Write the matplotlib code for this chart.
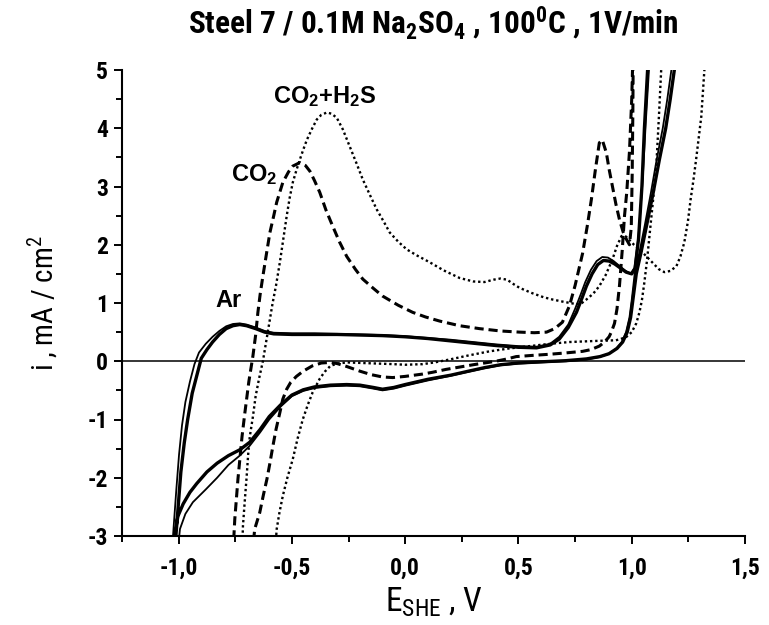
import numpy as np
import matplotlib
matplotlib.use("Agg")
import matplotlib.pyplot as plt
from matplotlib import font_manager
from matplotlib.ticker import MultipleLocator, FuncFormatter

# === fonts: a narrow sans if there is one ===
names = {f.name for f in font_manager.fontManager.ttflist}
FONT = "Liberation Sans"
for cand in ["Liberation Sans Narrow", "Arial Narrow", "Roboto Condensed",
             "Noto Sans Condensed", "Open Sans Condensed"]:
    if cand in names:
        FONT = cand
        break
plt.rcParams["font.family"] = [FONT, "DejaVu Sans"]
plt.rcParams["mathtext.fontset"] = "custom"
plt.rcParams["mathtext.rm"] = FONT
plt.rcParams["mathtext.bf"] = FONT + ":bold"
plt.rcParams["mathtext.default"] = "regular"

# === data (E vs SHE in V, i in mA/cm2) ===
# Ar, first cycle (thick)
ar1_fwd_e = [-1.02, -1.012, -1.0, -0.99, -0.975, -0.96, -0.94, -0.92, -0.9, -0.875, -0.85, -0.82,
             -0.79, -0.76, -0.73, -0.7, -0.66, -0.62, -0.58, -0.5, -0.4, -0.3, -0.2, -0.1, 0.0,
             0.1, 0.2, 0.3, 0.4, 0.5, 0.58, 0.64, 0.68, 0.72, 0.756, 0.78, 0.80, 0.825, 0.85,
             0.875, 0.9, 0.925, 0.95, 0.975, 1.0, 1.015, 1.03, 1.045, 1.056, 1.07, 1.075]
ar1_fwd_i = [-3.3, -3.0, -2.4, -1.9, -1.4, -1.0, -0.55, -0.25, 0.05, 0.2, 0.33, 0.46,
             0.56, 0.61, 0.63, 0.61, 0.56, 0.5, 0.47, 0.46, 0.46, 0.46, 0.45, 0.44, 0.42,
             0.39, 0.35, 0.31, 0.27, 0.24, 0.23, 0.28, 0.38, 0.58, 0.84, 1.08, 1.29, 1.5, 1.66,
             1.73, 1.72, 1.67, 1.6, 1.53, 1.5, 1.6, 2.1, 3.0, 4.0, 5.0, 5.5]
ar1_rev_e = [1.195, 1.188, 1.17, 1.15, 1.122, 1.095, 1.065, 1.04, 1.02, 1.005, 0.995, 0.98,
             0.96, 0.935, 0.9, 0.86, 0.8, 0.71, 0.6, 0.5, 0.42, 0.35, 0.28, 0.2, 0.1, 0.0,
             -0.05, -0.1, -0.14, -0.2, -0.258, -0.33, -0.4, -0.45, -0.5, -0.55, -0.6, -0.64,
             -0.686, -0.73, -0.78, -0.83, -0.875, -0.92, -0.95, -0.98, -1.003, -1.016, -1.02]
ar1_rev_i = [5.5, 5.0, 4.5, 4.0, 3.46, 2.9, 2.32, 1.85, 1.5, 1.05, 0.75, 0.5,
             0.33, 0.22, 0.13, 0.08, 0.04, 0.01, -0.01, -0.03, -0.06, -0.11, -0.17, -0.24, -0.31, -0.4,
             -0.45, -0.48, -0.45, -0.41, -0.40, -0.41, -0.44, -0.49, -0.58, -0.75, -0.95, -1.17,
             -1.39, -1.52, -1.62, -1.75, -1.9, -2.1, -2.25, -2.45, -2.66, -2.94, -3.3]
# Ar, second cycle (thinner)
ar2_fwd_e = [-1.03, -1.022, -1.01, -0.998, -0.985, -0.97, -0.95, -0.93, -0.91, -0.88, -0.85, -0.82,
             -0.79, -0.76, -0.73, -0.7, -0.66, -0.62, -0.58, -0.5, -0.4, -0.3, -0.2, -0.1, 0.0,
             0.1, 0.2, 0.3, 0.4, 0.5, 0.58, 0.64, 0.68, 0.72, 0.75, 0.775, 0.795, 0.82, 0.845,
             0.87, 0.895, 0.92, 0.945, 0.97, 0.995, 1.012, 1.03, 1.048, 1.062, 1.076, 1.082]
ar2_fwd_i = [-3.3, -2.85, -2.2, -1.6, -1.1, -0.7, -0.35, -0.05, 0.15, 0.3, 0.42, 0.52,
             0.6, 0.64, 0.65, 0.63, 0.58, 0.52, 0.49, 0.48, 0.48, 0.47, 0.46, 0.45, 0.43,
             0.4, 0.37, 0.33, 0.29, 0.26, 0.25, 0.3, 0.42, 0.63, 0.9, 1.15, 1.36, 1.57, 1.72,
             1.79, 1.78, 1.72, 1.64, 1.56, 1.5, 1.6, 2.15, 3.1, 4.1, 5.0, 5.5]
ar2_rev_e = [1.182, 1.175, 1.157, 1.137, 1.11, 1.085, 1.057, 1.033, 1.013, 1.0, 0.99, 0.975,
             0.955, 0.93, 0.895, 0.855, 0.8, 0.71, 0.6, 0.5, 0.42, 0.35, 0.28, 0.2, 0.1, 0.0,
             -0.05, -0.1, -0.14, -0.2, -0.258, -0.33, -0.4, -0.45, -0.5, -0.55, -0.6, -0.64,
             -0.686, -0.73, -0.78, -0.83, -0.88, -0.937, -0.97, -0.994, -1.005]
ar2_rev_i = [5.5, 5.0, 4.5, 4.0, 3.46, 2.9, 2.32, 1.85, 1.5, 1.05, 0.75, 0.5,
             0.32, 0.21, 0.12, 0.07, 0.03, 0.0, -0.02, -0.04, -0.07, -0.12, -0.18, -0.25, -0.33, -0.42,
             -0.47, -0.5, -0.47, -0.43, -0.42, -0.43, -0.46, -0.51, -0.6, -0.78, -1.0, -1.22,
             -1.45, -1.62, -1.78, -2.0, -2.2, -2.42, -2.62, -2.88, -3.3]

# CO2 (dashed)
co2_fwd_e = [-0.76, -0.752, -0.738, -0.72, -0.708, -0.69, -0.672, -0.66, -0.65, -0.64, -0.628,
             -0.612, -0.597, -0.58, -0.567, -0.54, -0.515, -0.496, -0.465, -0.44, -0.42, -0.4,
             -0.377, -0.35, -0.32, -0.29, -0.258, -0.22, -0.187, -0.14, -0.1, -0.03, 0.033,
             0.09, 0.152, 0.24, 0.328, 0.42, 0.505, 0.57, 0.624, 0.66, 0.694, 0.725, 0.75,
             0.783, 0.805, 0.822, 0.84, 0.857, 0.87, 0.888, 0.9, 0.915, 0.93, 0.946, 0.962,
             0.977, 0.99, 0.998, 1.002, 1.005, 1.007]
co2_fwd_i = [-3.3, -2.71, -2.02, -1.29, -0.9, -0.35, 0.09, 0.45, 0.84, 1.15, 1.46,
             1.85, 2.21, 2.5, 2.73, 3.07, 3.25, 3.35, 3.41, 3.36, 3.26, 3.1,
             2.9, 2.6, 2.32, 2.05, 1.8, 1.58, 1.41, 1.25, 1.12, 0.96, 0.84,
             0.76, 0.69, 0.61, 0.56, 0.52, 0.5, 0.49, 0.5, 0.56, 0.67, 0.95, 1.3,
             1.85, 2.35, 2.78, 3.3, 3.75, 3.8, 3.58, 3.3, 3.0, 2.7, 2.43, 2.22,
             2.09, 2.0, 2.3, 3.2, 4.3, 5.5]
co2_rev_e = [1.007, 1.0, 0.99, 0.978, 0.968, 0.958, 0.946, 0.935, 0.924, 0.91, 0.9, 0.88,
             0.857, 0.82, 0.783, 0.7, 0.637, 0.56, 0.49, 0.45, 0.4, 0.35, 0.3, 0.24, 0.18,
             0.12, 0.077, 0.0, -0.055, -0.1, -0.15, -0.2, -0.258, -0.3, -0.33, -0.37, -0.41,
             -0.45, -0.48, -0.505, -0.523, -0.54, -0.553, -0.57, -0.584, -0.597, -0.61, -0.626,
             -0.642, -0.664, -0.675]
co2_rev_i = [5.5, 4.5, 3.6, 2.9, 2.49, 1.9, 1.3, 0.9, 0.65, 0.5, 0.42, 0.33,
             0.26, 0.2, 0.17, 0.14, 0.12, 0.1, 0.08, 0.04, 0.0, -0.03, -0.06, -0.1, -0.14,
             -0.19, -0.22, -0.26, -0.28, -0.27, -0.23, -0.17, -0.09, -0.04, -0.02, -0.03, -0.08,
             -0.17, -0.26, -0.36, -0.48, -0.65, -0.88, -1.17, -1.46, -1.75, -2.02, -2.3,
             -2.6, -2.88, -3.3]

# CO2 + H2S (dotted)
h2s_fwd_e = [-0.72, -0.716, -0.708, -0.70, -0.693, -0.686, -0.672, -0.66, -0.645, -0.628, -0.612,
             -0.597, -0.585, -0.57, -0.553, -0.538, -0.523, -0.51, -0.496, -0.48, -0.465, -0.45,
             -0.434, -0.41, -0.39, -0.37, -0.346, -0.325, -0.302, -0.275, -0.245, -0.215, -0.187,
             -0.155, -0.126, -0.095, -0.068, -0.03, 0.007, 0.05, 0.108, 0.17, 0.24, 0.3, 0.35,
             0.39, 0.42, 0.45, 0.48, 0.505, 0.56, 0.61, 0.65, 0.7, 0.756, 0.78, 0.80, 0.83,
             0.857, 0.885, 0.915, 0.935, 0.955, 0.975, 0.99, 1.01, 1.034, 1.06, 1.09, 1.12,
             1.144, 1.17, 1.197, 1.215, 1.232, 1.248, 1.26, 1.272, 1.284, 1.296, 1.307, 1.32, 1.33]
h2s_fwd_i = [-3.3, -2.83, -2.4, -2.0, -1.6, -1.3, -0.95, -0.6, -0.3, 0.0, 0.37,
             0.72, 1.0, 1.3, 1.7, 2.1, 2.49, 2.8, 3.07, 3.28, 3.46, 3.63,
             3.8, 4.0, 4.15, 4.23, 4.27, 4.25, 4.18, 3.98, 3.69, 3.4, 3.12,
             2.85, 2.61, 2.4, 2.21, 2.05, 1.92, 1.82, 1.70, 1.56, 1.43, 1.37, 1.36,
             1.4, 1.42, 1.4, 1.32, 1.26, 1.17, 1.1, 1.06, 1.02, 0.98, 1.0, 1.06, 1.16,
             1.29, 1.48, 1.75, 1.98, 2.15, 2.14, 2.08, 2.0, 1.92, 1.82, 1.70, 1.58,
             1.53, 1.55, 1.63, 1.8, 2.04, 2.4, 2.78, 3.1, 3.46, 3.85, 4.2, 4.96, 5.5]
h2s_rev_e = [1.135, 1.13, 1.12, 1.11, 1.095, 1.08, 1.068, 1.056, 1.045, 1.034, 1.02, 1.0,
             0.977, 0.95, 0.93, 0.85, 0.725, 0.64, 0.55, 0.46, 0.372, 0.28, 0.196, 0.13,
             0.077, 0.0, -0.05, -0.12, -0.2, -0.258, -0.3, -0.33, -0.355, -0.377, -0.393,
             -0.408, -0.43, -0.452, -0.475, -0.496, -0.52, -0.54, -0.555, -0.567, -0.575]
h2s_rev_i = [5.5, 5.0, 4.2, 3.46, 2.8, 2.21, 1.75, 1.36, 1.05, 0.84, 0.65, 0.5,
             0.42, 0.38, 0.36, 0.35, 0.33, 0.3, 0.26, 0.22, 0.17, 0.1, 0.03, -0.02,
             -0.05, -0.06, -0.05, -0.04, -0.03, -0.02, -0.04, -0.08, -0.18, -0.3, -0.42,
             -0.53, -0.75, -1.0, -1.33, -1.68, -2.0, -2.31, -2.6, -2.88, -3.3]

labels = ["Ar", "CO$_2$", "CO$_2$+H$_2$S"]
label_e = [-0.78, -0.665, -0.355]
label_i = [1.05, 3.2, 4.55]

# === figure ===
fig = plt.figure(figsize=(7.69, 6.25), dpi=100)
ax = fig.add_axes([0.1586, 0.1424, 0.8102, 0.7456])

ax.axhline(0, color="black", lw=1.1, zorder=1)

ax.plot(ar1_fwd_e + ar1_rev_e, ar1_fwd_i + ar1_rev_i, color="black", lw=2.4)
ax.plot(ar2_fwd_e + ar2_rev_e, ar2_fwd_i + ar2_rev_i, color="black", lw=1.3)
ax.plot(co2_fwd_e + co2_rev_e, co2_fwd_i + co2_rev_i, color="black", lw=2.2,
        linestyle=(0, (3.0, 1.6)))
ax.plot(h2s_fwd_e + h2s_rev_e, h2s_fwd_i + h2s_rev_i, color="black", lw=1.7,
        linestyle=(0, (1.0, 1.2)))

for txt, e, i in zip(labels, label_e, label_i):
    ax.text(e, i, txt, fontsize=17, fontweight="bold", ha="center", va="center",
            family=["Liberation Sans", "DejaVu Sans"])

ax.set_xlim(-1.25, 1.5)
ax.set_ylim(-3, 5)
ax.spines["top"].set_visible(False)
ax.spines["right"].set_visible(False)
for s in ("left", "bottom"):
    ax.spines[s].set_linewidth(1.5)

ax.xaxis.set_major_locator(MultipleLocator(0.5))
ax.xaxis.set_minor_locator(MultipleLocator(0.25))
ax.yaxis.set_major_locator(MultipleLocator(1))
ax.yaxis.set_minor_locator(MultipleLocator(0.5))
ax.xaxis.set_major_formatter(FuncFormatter(lambda v, p: f"{v:.1f}".replace(".", ",").replace("-0,0", "0,0")))
ax.yaxis.set_major_formatter(FuncFormatter(lambda v, p: f"{v:.0f}"))
ax.tick_params(which="major", direction="out", length=6, width=1.4, labelsize=17)
ax.tick_params(axis="x", which="major", pad=9)
ax.tick_params(axis="y", which="major", pad=4)
ax.tick_params(which="minor", direction="out", length=4, width=1.4)
for lab in ax.get_xticklabels() + ax.get_yticklabels():
    lab.set_fontweight("bold")

ax.set_xlabel("E$_{SHE}$ , V", fontsize=24, labelpad=4)
ax.set_ylabel("i , mA / cm$^2$", fontsize=21, labelpad=20)
fig.text(0.563, 0.963, "Steel 7 / 0.1M Na$_\\mathbf{2}$SO$_\\mathbf{4}$ , 100$^\\mathbf{0}$C , 1V/min",
         fontsize=22.5, fontweight="bold", ha="center", va="center")

fig.savefig("out.png", dpi=100)
